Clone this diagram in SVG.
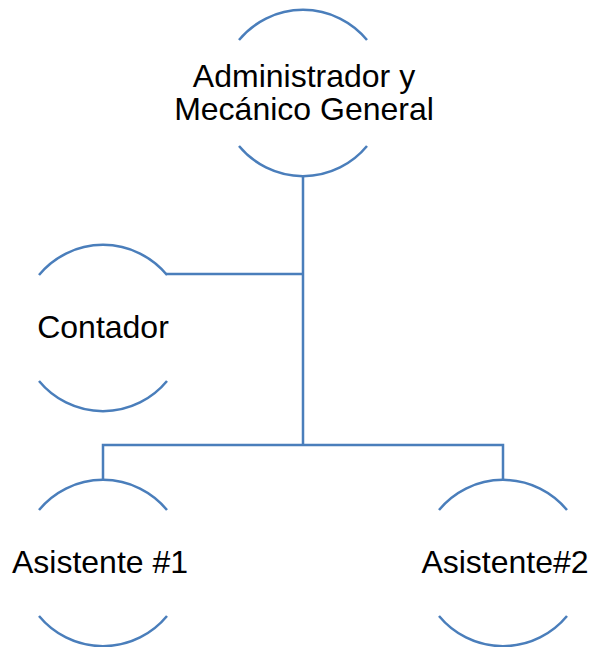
<svg xmlns="http://www.w3.org/2000/svg" width="593" height="647" viewBox="0 0 593 647">
<style>
.arc{fill:none;stroke:#4a7ebb;stroke-width:2.5}
.conn{fill:none;stroke:#4a7ebb;stroke-width:2.5}
.lbl{font-family:"Liberation Sans",Arial,sans-serif;font-size:32px;fill:#000;text-anchor:middle}
</style>
<rect width="593" height="647" fill="#fff"/>
<g id="connectors">
<path class="conn" d="M303 176 V445"/>
<path class="conn" d="M166 274 H303"/>
<path class="conn" d="M103 480 V445 H503 V480"/>
</g>
<g id="node-admin">
<path class="arc" d="M239 40 A83 83 0 0 1 367 40"/>
<path class="arc" d="M239 146 A83 83 0 0 0 367 146"/>
<text class="lbl" x="304" y="87"><tspan x="304" y="87">Administrador y</tspan><tspan x="304" y="120">Mecánico General</tspan></text>
</g>
<g id="node-contador">
<path class="arc" d="M39 275 A83 83 0 0 1 167 275"/>
<path class="arc" d="M39 381 A83 83 0 0 0 167 381"/>
<text class="lbl" x="103" y="338">Contador</text>
</g>
<g id="node-asistente1">
<path class="arc" d="M39 510 A83 83 0 0 1 167 510"/>
<path class="arc" d="M39 616 A83 83 0 0 0 167 616"/>
<text class="lbl" x="100" y="573">Asistente #1</text>
</g>
<g id="node-asistente2">
<path class="arc" d="M439 510 A83 83 0 0 1 567 510"/>
<path class="arc" d="M439 616 A83 83 0 0 0 567 616"/>
<text class="lbl" x="505" y="573">Asistente#2</text>
</g>
</svg>
